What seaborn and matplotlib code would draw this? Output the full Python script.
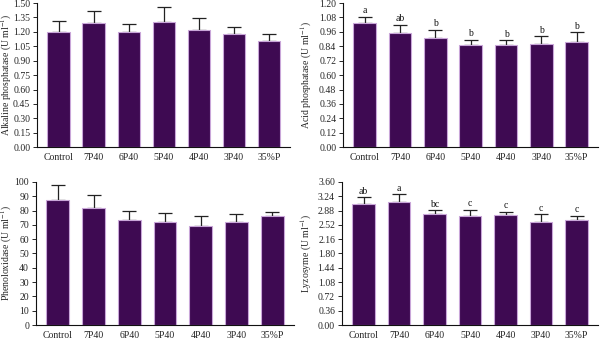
import matplotlib
matplotlib.use("Agg")
import matplotlib.pyplot as plt
import seaborn as sns
import numpy as np
import pandas as pd

groups = ["Control", "7P40", "6P40", "5P40", "4P40", "3P40", "35%P"]

alp_mean = [1.194, 1.288, 1.197, 1.298, 1.215, 1.173, 1.103]
alp_err = [0.115, 0.125, 0.090, 0.160, 0.125, 0.083, 0.070]

acp_mean = [1.034, 0.953, 0.912, 0.854, 0.854, 0.862, 0.878]
acp_err = [0.052, 0.067, 0.066, 0.039, 0.035, 0.060, 0.078]
acp_letters = ["a", "ab", "b", "b", "b", "b", "b"]

po_mean = [87.2, 81.6, 73.2, 71.8, 69.5, 71.8, 76.2]
po_err = [10.7, 9.3, 6.8, 6.3, 6.5, 5.6, 3.0]

lzm_mean = [3.039, 3.106, 2.805, 2.738, 2.763, 2.587, 2.637]
lzm_err = [0.170, 0.180, 0.080, 0.160, 0.090, 0.200, 0.117]
lzm_letters = ["ab", "a", "bc", "c", "c", "c", "c"]

alp_ticks = [0.00, 0.15, 0.30, 0.45, 0.60, 0.75, 0.90, 1.05, 1.20, 1.35, 1.50]
acp_ticks = [0.00, 0.12, 0.24, 0.36, 0.48, 0.60, 0.72, 0.84, 0.96, 1.08, 1.20]
po_ticks = [0, 10, 20, 30, 40, 50, 60, 70, 80, 90, 100]
lzm_ticks = [0.00, 0.36, 0.72, 1.08, 1.44, 1.80, 2.16, 2.52, 2.88, 3.24, 3.60]

sns.set_theme(style="ticks")
plt.rcParams["font.family"] = ["Liberation Serif", "DejaVu Serif"]
plt.rcParams["mathtext.fontset"] = "stix"

BAR = "#3e0a52"
EDGE = "#c9a6d9"

fig = plt.figure(figsize=(6, 3.4), dpi=100)

panels = [
    (alp_mean, alp_err, None, alp_ticks, "Alkaline phosphatase (U ml$^{-1}$)", "{:.2f}", [0.062, 0.567, 0.422, 0.424], 14 / 600),
    (acp_mean, acp_err, acp_letters, acp_ticks, "Acid phosphatase (U ml$^{-1}$)", "{:.2f}", [0.572, 0.567, 0.425, 0.424], 314 / 600),
    (po_mean, po_err, None, po_ticks, "Phenoloxidase (U ml$^{-1}$)", "{:.0f}", [0.060, 0.044, 0.430, 0.421], 14 / 600),
    (lzm_mean, lzm_err, lzm_letters, lzm_ticks, "Lyzosyme (U ml$^{-1}$)", "{:.2f}", [0.570, 0.044, 0.427, 0.421], 314 / 600),
]

for mean, err, letters, ticks, ylabel, fmt, rect, lx in panels:
    ax = fig.add_axes(rect)
    df = pd.DataFrame({"group": groups, "value": mean})
    sns.barplot(data=df, x="group", y="value", order=groups, color=BAR,
                saturation=1, width=0.64, edgecolor=EDGE, linewidth=0.8,
                errorbar=None, ax=ax, zorder=2)
    x = np.arange(len(groups))
    ax.errorbar(x, mean, yerr=[np.zeros(len(mean)), err], fmt="none",
                ecolor="#222222", elinewidth=0.9, capsize=4.8, capthick=0.9, zorder=1)
    if letters is not None:
        for xi, m, e, lab in zip(x, mean, err, letters):
            ax.text(xi, m + e + ticks[-1] * 0.012, lab, ha="center", va="bottom",
                    fontsize=7, color="#111111")
    ax.set_ylim(ticks[0], ticks[-1])
    ax.set_xlim(-0.61, len(groups) - 1 + 0.61)
    ax.set_yticks(ticks)
    ax.set_yticklabels([fmt.format(t) for t in ticks], fontsize=7)
    ax.set_xticks(x)
    ax.set_xticklabels(groups, fontsize=7)
    ax.tick_params(axis="x", length=0, pad=4)
    ax.tick_params(axis="y", length=3, width=0.7, pad=2)
    ax.set_xlabel("")
    ax.set_ylabel(ylabel, fontsize=7)
    ax.yaxis.set_label_coords(lx, 0.5 * (rect[1] * 2 + rect[3]), transform=fig.transFigure)
    for s in ["top", "right"]:
        ax.spines[s].set_visible(False)
    for s in ["left", "bottom"]:
        ax.spines[s].set_linewidth(0.8)
        ax.spines[s].set_color("#111111")

fig.savefig("out.png", dpi=100)
